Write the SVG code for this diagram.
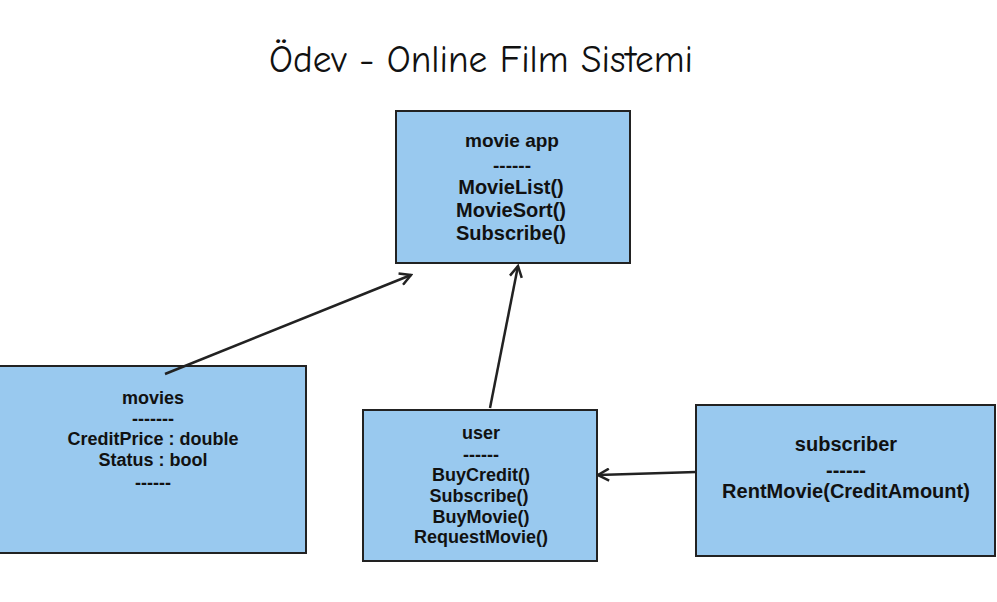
<svg xmlns="http://www.w3.org/2000/svg" width="997" height="602" viewBox="0 0 997 602">
<defs>
<style>
.box{fill:#99c9ef;stroke:#222;stroke-width:2}
.t{font-family:"Liberation Sans",Arial,sans-serif;font-weight:bold;fill:#111;text-anchor:middle}
.c{fill:none;stroke:#222;stroke-width:2.5}
.title{font-family:"Comic Neue","Noto Sans",sans-serif;font-size:39px;fill:#111;text-anchor:middle}
</style>
<marker id="arr" markerWidth="14" markerHeight="14" refX="12" refY="7" orient="auto" markerUnits="userSpaceOnUse">
<path d="M1,1 L12,7 L1,13" fill="none" stroke="#222" stroke-width="2.5"/>
</marker>
</defs>
<rect width="997" height="602" fill="#fff"/>
<text class="title" x="481" y="72" textLength="424" lengthAdjust="spacingAndGlyphs">Ödev - Online Film Sistemi</text>
<g id="movieapp">
<rect class="box" x="396" y="111" width="234" height="152"/>
<text class="t" font-size="19" x="512" y="147">movie app</text>
<text class="t" font-size="19" x="512" y="172">------</text>
<text class="t" font-size="20" x="511" y="194">MovieList()</text>
<text class="t" font-size="20" x="511" y="217">MovieSort()</text>
<text class="t" font-size="20" x="511" y="240">Subscribe()</text>
</g>
<g id="movies">
<rect class="box" x="-2" y="366" width="308" height="187"/>
<text class="t" font-size="18" x="153" y="404">movies</text>
<text class="t" font-size="18" x="153" y="425">-------</text>
<text class="t" font-size="18" x="153" y="445">CreditPrice : double</text>
<text class="t" font-size="18" x="153" y="466">Status : bool</text>
<text class="t" font-size="18" x="153" y="489">------</text>
</g>
<g id="user">
<rect class="box" x="363" y="410" width="234" height="151"/>
<text class="t" font-size="18" x="481" y="439">user</text>
<text class="t" font-size="18" x="481" y="461">------</text>
<text class="t" font-size="18" x="481" y="481">BuyCredit()</text>
<text class="t" font-size="18" x="479" y="502">Subscribe()</text>
<text class="t" font-size="18" x="481" y="523">BuyMovie()</text>
<text class="t" font-size="18" x="481" y="543">RequestMovie()</text>
</g>
<g id="subscriber">
<rect class="box" x="696" y="405" width="299" height="151"/>
<text class="t" font-size="20" x="846" y="451">subscriber</text>
<text class="t" font-size="20" x="846" y="477">------</text>
<text class="t" font-size="20" x="846" y="498">RentMovie(CreditAmount)</text>
</g>
<g id="connectors">
<line class="c" x1="165" y1="374" x2="411" y2="275" marker-end="url(#arr)"/>
<line class="c" x1="490" y1="408" x2="518" y2="266" marker-end="url(#arr)"/>
<line class="c" x1="696" y1="472" x2="598" y2="475" marker-end="url(#arr)"/>
</g>
</svg>
